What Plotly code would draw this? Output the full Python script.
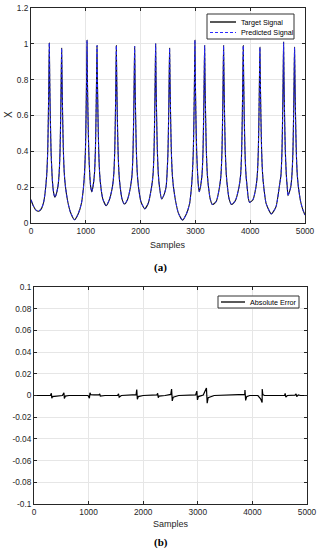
import plotly.graph_objects as go

# ---- Data ----
samples = [0, 40, 90, 140, 190, 230, 258, 287, 305, 317, 326, 334,
           342, 352, 366, 384, 400, 418, 435, 455, 490, 512, 530, 542, 551, 559,
           567, 577, 591, 609, 630, 670, 720, 795, 860, 920, 955, 975, 993, 1005, 1014, 1022,
           1030, 1040, 1054, 1072, 1090, 1110, 1130, 1157, 1175, 1187, 1196, 1204,
           1212, 1222, 1236, 1254, 1275, 1310, 1370, 1430, 1485, 1510, 1528, 1540, 1549, 1557,
           1565, 1575, 1589, 1607, 1628, 1660, 1705, 1760, 1815, 1844, 1862, 1874, 1883, 1891,
           1899, 1909, 1923, 1941, 1962, 2005, 2075, 2140, 2200, 2227, 2245, 2257, 2266, 2274,
           2282, 2292, 2306, 2324, 2345, 2385, 2430, 2465, 2482, 2500, 2512, 2521, 2529,
           2537, 2547, 2561, 2579, 2600, 2640, 2690, 2765, 2835, 2895, 2925, 2944, 2962, 2974, 2983, 2991,
           2999, 3009, 3023, 3041, 3057, 3070, 3092, 3121, 3139, 3151, 3160, 3168,
           3176, 3186, 3200, 3218, 3239, 3270, 3310, 3380, 3440, 3467, 3485, 3497, 3506, 3514,
           3522, 3532, 3546, 3564, 3585, 3615, 3660, 3730, 3795, 3826, 3844, 3856, 3865, 3873,
           3881, 3891, 3905, 3923, 3944, 3965, 3990, 4050, 4105, 4130, 4148, 4160, 4169, 4177,
           4185, 4195, 4209, 4227, 4248, 4290, 4385, 4470, 4530, 4562, 4580, 4592, 4601, 4609,
           4617, 4627, 4641, 4659, 4676, 4690, 4712, 4740, 4762, 4780, 4792, 4801, 4809,
           4817, 4827, 4841, 4859, 4880, 4920, 4960, 5000]

target_signal = [0.130, 0.097, 0.072, 0.066, 0.080, 0.115, 0.170, 0.27, 0.40, 0.60, 0.80, 1.005,
                 0.80, 0.60, 0.40, 0.27, 0.20, 0.160, 0.144, 0.155, 0.20, 0.27, 0.40, 0.60, 0.80, 0.975,
                 0.80, 0.60, 0.40, 0.27, 0.20, 0.12, 0.06, 0.018, 0.05, 0.11, 0.19, 0.27, 0.40, 0.60, 0.80, 1.02,
                 0.80, 0.60, 0.40, 0.27, 0.20, 0.174, 0.20, 0.27, 0.40, 0.60, 0.80, 0.99,
                 0.80, 0.60, 0.40, 0.27, 0.20, 0.135, 0.097, 0.13, 0.20, 0.27, 0.40, 0.60, 0.80, 0.99,
                 0.80, 0.60, 0.40, 0.27, 0.20, 0.135, 0.106, 0.13, 0.20, 0.27, 0.40, 0.60, 0.80, 0.985,
                 0.80, 0.60, 0.40, 0.27, 0.20, 0.12, 0.079, 0.11, 0.20, 0.27, 0.40, 0.60, 0.80, 1.00,
                 0.80, 0.60, 0.40, 0.27, 0.20, 0.134, 0.16, 0.20, 0.27, 0.40, 0.60, 0.80, 0.975,
                 0.80, 0.60, 0.40, 0.27, 0.20, 0.12, 0.055, 0.016, 0.05, 0.11, 0.19, 0.27, 0.40, 0.60, 0.80, 1.02,
                 0.80, 0.60, 0.40, 0.27, 0.20, 0.175, 0.20, 0.27, 0.40, 0.60, 0.80, 0.99,
                 0.80, 0.60, 0.40, 0.27, 0.20, 0.135, 0.103, 0.12, 0.20, 0.27, 0.40, 0.60, 0.80, 0.99,
                 0.80, 0.60, 0.40, 0.27, 0.20, 0.135, 0.103, 0.125, 0.20, 0.27, 0.40, 0.60, 0.80, 0.99,
                 0.80, 0.60, 0.40, 0.27, 0.20, 0.14, 0.115, 0.13, 0.20, 0.27, 0.40, 0.60, 0.80, 0.98,
                 0.80, 0.60, 0.40, 0.27, 0.20, 0.11, 0.051, 0.09, 0.20, 0.27, 0.40, 0.60, 0.80, 1.01,
                 0.80, 0.60, 0.40, 0.27, 0.20, 0.152, 0.17, 0.20, 0.27, 0.40, 0.60, 0.80, 0.98,
                 0.80, 0.60, 0.40, 0.27, 0.20, 0.12, 0.075, 0.045]

predicted_signal = list(target_signal)

error_samples = [0, 300, 318, 326, 340, 400, 520, 548, 556, 575, 640,
                 990, 1015, 1025, 1040, 1100, 1190, 1204, 1215, 1300,
                 1530, 1548, 1560, 1600, 1870, 1882, 1893, 1910, 2000,
                 2250, 2265, 2276, 2290, 2400, 2505, 2520, 2532, 2550, 2650,
                 2960, 2982, 2994, 3010, 3100, 3158, 3172, 3190, 3300,
                 3860, 3864, 3876, 3895, 3950, 4100, 4150, 4178, 4180, 4190, 4220,
                 4590, 4600, 4612, 4640, 4780, 4800, 4812, 4840, 4880, 5000]
absolute_error = [0, 0, 0.002, -0.0025, -0.001, -0.0008, 0, 0.0025, -0.0028, -0.0005, 0,
                  0, -0.0025, 0.0025, 0.0008, 0.0005, 0.0005, 0.0015, -0.0005, 0,
                  0, 0.0015, -0.0015, 0, 0.0008, 0.0055, -0.0035, -0.001, 0,
                  0.0005, 0.002, -0.002, -0.0005, 0, 0.001, 0.006, -0.005, -0.0015, 0,
                  0.0005, 0.004, -0.004, -0.001, 0.0005, 0.007, -0.007, -0.002, 0,
                  0.001, 0.005, -0.0045, -0.001, 0, 0, -0.003, -0.0065, 0.006, 0.001, 0,
                  0, 0.002, -0.0015, 0, 0.0003, 0.0015, -0.001, 0.0005, 0, 0]

x_ticks = [0, 1000, 2000, 3000, 4000, 5000]
y_ticks_top = [0, 0.2, 0.4, 0.6, 0.8, 1.0, 1.2]
y_ticks_top_text = ["0", "0.2", "0.4", "0.6", "0.8", "1", "1.2"]
y_ticks_bot = [-0.1, -0.08, -0.06, -0.04, -0.02, 0, 0.02, 0.04, 0.06, 0.08, 0.1]
y_ticks_bot_text = ["-0.1", "-0.08", "-0.06", "-0.04", "-0.02", "0", "0.02", "0.04", "0.06", "0.08", "0.1"]

W, H = 321, 550
FONT = "Liberation Sans, Arial, sans-serif"
AX = "#262626"
GRID = "#e6e6e6"
BLUE = "#2a2aff"

fig = go.Figure()
fig.add_trace(go.Scatter(x=samples, y=target_signal, mode="lines", name="Target Signal",
                         line=dict(color="#101010", width=1.1, shape="spline", smoothing=0.6),
                         xaxis="x", yaxis="y", showlegend=False))
fig.add_trace(go.Scatter(x=samples, y=predicted_signal, mode="lines", name="Predicted Signal",
                         line=dict(color=BLUE, width=1.0, dash="3px,2px", shape="spline", smoothing=0.6),
                         xaxis="x", yaxis="y", showlegend=False))
fig.add_trace(go.Scatter(x=error_samples, y=absolute_error, mode="lines", name="Absolute Error",
                         line=dict(color="black", width=1.2), xaxis="x2", yaxis="y2", showlegend=False))


def px_x(p):
    return p / W


def px_y(p):
    return 1 - p / H


axis_common = dict(showline=True, linecolor=AX, linewidth=1, mirror="ticks", ticks="inside",
                   ticklen=3, tickcolor=AX, showgrid=True, gridcolor=GRID, gridwidth=1,
                   zeroline=False, automargin=False,
                   tickfont=dict(family=FONT, size=8.3, color=AX))

shapes = []
annotations = []


def legend_box(x0, y0, x1, y1):
    shapes.append(dict(type="rect", xref="paper", yref="paper", x0=px_x(x0), x1=px_x(x1),
                       y0=px_y(y1), y1=px_y(y0), line=dict(color="#333333", width=1),
                       fillcolor="white", layer="above"))


def legend_item(lx0, lx1, ly, text, color, dash, width):
    shapes.append(dict(type="line", xref="paper", yref="paper", x0=px_x(lx0), x1=px_x(lx1),
                       y0=px_y(ly), y1=px_y(ly), line=dict(color=color, width=width, dash=dash),
                       layer="above"))
    annotations.append(dict(text=text, x=px_x(lx1 + 2.5), y=px_y(ly), xref="paper", yref="paper",
                            xanchor="left", yanchor="middle", showarrow=False,
                            font=dict(family=FONT, size=7.2, color="black")))


legend_box(207, 14, 294, 39)
legend_item(210, 236, 22, "Target Signal", "#101010", "solid", 1.4)
legend_item(210, 236, 32.5, "Predicted Signal", BLUE, "3px,2px", 1.1)
legend_box(218, 296, 299, 308)
legend_item(221, 245, 302, "Absolute Error", "black", "solid", 1.3)


def label(text, x, y, size, family=FONT, color=AX, angle=0):
    annotations.append(dict(text=text, x=px_x(x), y=px_y(y), xref="paper", yref="paper",
                            xanchor="center", yanchor="middle", showarrow=False, textangle=angle,
                            font=dict(family=family, size=size, color=color)))


label("X", 8, 115, 10, angle=-90)
label("Samples", 168, 245, 9)
label("<b>(a)</b>", 161, 267, 11, family="Liberation Serif, serif", color="black")
label("Samples", 171, 524, 9)
label("<b>(b)</b>", 161, 542, 11, family="Liberation Serif, serif", color="black")

fig.update_layout(
    width=W, height=H, margin=dict(l=0, r=0, t=0, b=0, autoexpand=False),
    paper_bgcolor="white", plot_bgcolor="white", showlegend=False,
    xaxis=dict(domain=[px_x(31), px_x(305)], range=[0, 5000], tickvals=x_ticks, anchor="y",
               **axis_common),
    yaxis=dict(domain=[px_y(223), px_y(8)], range=[0, 1.2], tickvals=y_ticks_top,
               ticktext=y_ticks_top_text, anchor="x", **axis_common),
    xaxis2=dict(domain=[px_x(34), px_x(307)], range=[0, 5000], tickvals=x_ticks, anchor="y2",
                **axis_common),
    yaxis2=dict(domain=[px_y(504), px_y(287)], range=[-0.1, 0.1], tickvals=y_ticks_bot,
                ticktext=y_ticks_bot_text, anchor="x2", **axis_common),
    shapes=shapes,
    annotations=annotations,
)

fig.write_html("out.html", config={"displayModeBar": False},
               post_script="document.body.style.margin='0';document.body.style.padding='0';")
